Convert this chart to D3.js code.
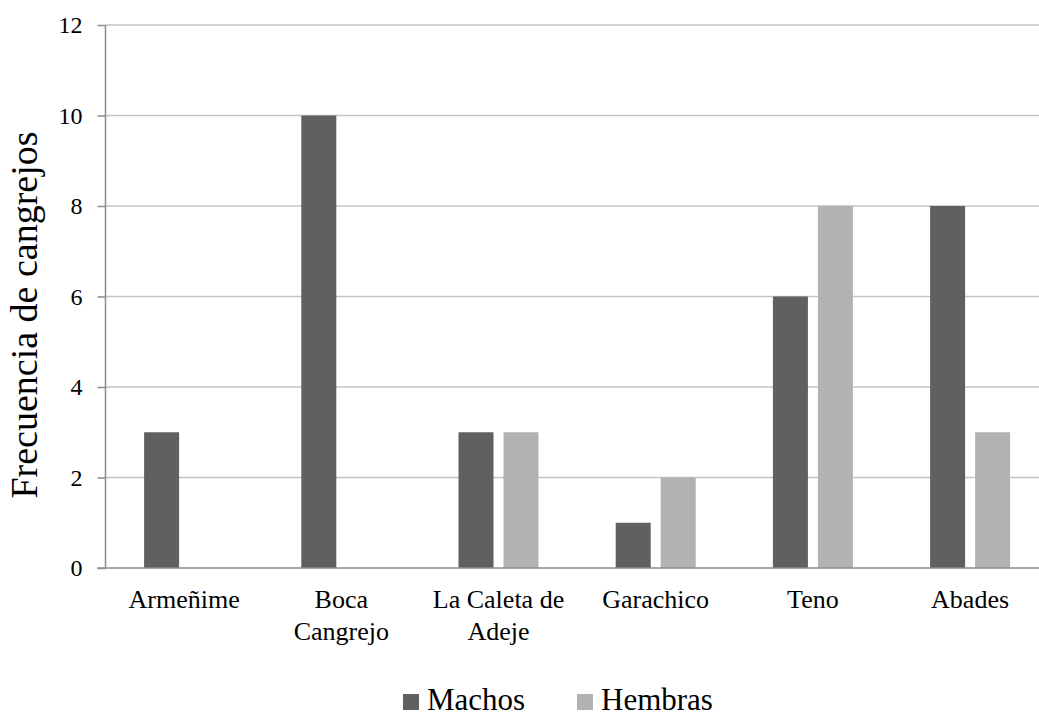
<!DOCTYPE html>
<html><head><meta charset="utf-8">
<script src="https://cdn.jsdelivr.net/npm/d3@7"></script>
<style>body{margin:0;background:#fff}svg{display:block}</style>
</head><body>
<svg id="c" width="1039" height="718"></svg>
<script>
const categories = [["Armeñime"], ["Boca", "Cangrejo"], ["La Caleta de", "Adeje"], ["Garachico"], ["Teno"], ["Abades"]];
const seriesNames = ["Machos", "Hembras"];
const machos = [3, 10, 3, 1, 6, 8];
const hembras = [0, 0, 3, 2, 8, 3];
const yTicks = [0, 2, 4, 6, 8, 10, 12];
const colors = {Machos: "#606060", Hembras: "#b2b2b2"};
const font = "Liberation Serif, Times New Roman, serif";

(function() {
const svg = d3.select("#c");
const mLeft = 105.5, mTop = 25, mBottom = 568, mRight = 105.5 + 6 * 157.2;
const keys = categories.map(c => c.join(" "));
const x0 = d3.scaleBand().domain(keys).range([mLeft, mRight]).padding(0);
const x1 = d3.scaleBand().domain(seriesNames).range([0, x0.bandwidth()]).paddingInner(0.222).paddingOuter(0.858);
const y = d3.scaleLinear().domain([0, 12]).range([mBottom, mTop]);

// grid
svg.append("g").selectAll("line").data(yTicks.filter(t => t > 0)).join("line")
  .attr("x1", mLeft).attr("x2", 1039).attr("y1", d => y(d)).attr("y2", d => y(d))
  .attr("stroke", "#c4c4c4").attr("stroke-width", 1.5);

// bars
const data = keys.map((k, i) => ({k, vals: [{s: "Machos", v: machos[i]}, {s: "Hembras", v: hembras[i]}]}));
svg.append("g").selectAll("g").data(data).join("g")
  .attr("transform", d => `translate(${x0(d.k)},0)`)
  .selectAll("rect").data(d => d.vals.filter(e => e.v > 0)).join("rect")
  .attr("x", d => x1(d.s)).attr("width", x1.bandwidth())
  .attr("y", d => y(d.v)).attr("height", d => y(0) - y(d.v))
  .attr("fill", d => colors[d.s]);

// y axis
const ya = svg.append("g").attr("transform", `translate(${mLeft},0)`)
  .call(d3.axisLeft(y).tickValues(yTicks).tickSize(8).tickPadding(15).tickFormat(d3.format("d")));
ya.attr("font-family", font).attr("font-size", 24);
ya.select(".domain").attr("stroke", "#8c8c8c").attr("stroke-width", 1.5).attr("d", `M0,${mTop}V${mBottom}`);
ya.selectAll(".tick line").attr("stroke", "#8c8c8c").attr("stroke-width", 1.5);
ya.selectAll(".tick text").style("font-family", font).style("font-size", "24px").attr("fill", "#000");

// x axis line
svg.append("line").attr("x1", mLeft - 8).attr("x2", 1039).attr("y1", mBottom).attr("y2", mBottom)
  .attr("stroke", "#8c8c8c").attr("stroke-width", 1.5);

// x labels
const xl = svg.append("g").selectAll("text").data(categories).join("text")
  .attr("x", (d, i) => x0(keys[i]) + x0.bandwidth() / 2).attr("y", 608)
  .attr("text-anchor", "middle").style("font-family", font).style("font-size", "26px").attr("fill", "#000");
xl.selectAll("tspan").data(d => d).join("tspan")
  .attr("x", function() { return d3.select(this.parentNode).attr("x"); })
  .attr("dy", (d, i) => i === 0 ? 0 : 32).text(d => d);

// y title
svg.append("text").attr("transform", "translate(37,315) rotate(-90)")
  .attr("text-anchor", "middle").style("font-family", font).style("font-size", "38px").attr("fill", "#000")
  .text("Frecuencia de cangrejos");

// legend
const leg = [{s: "Machos", x: 403}, {s: "Hembras", x: 577}];
const lg = svg.append("g").selectAll("g").data(leg).join("g");
lg.append("rect").attr("x", d => d.x).attr("y", 694).attr("width", 16).attr("height", 16).attr("fill", d => colors[d.s]);
lg.append("text").attr("x", d => d.x + 24).attr("y", 710).style("font-family", font).style("font-size", "31px")
  .attr("fill", "#000").text(d => d.s);
})();
</script>
</body></html>
